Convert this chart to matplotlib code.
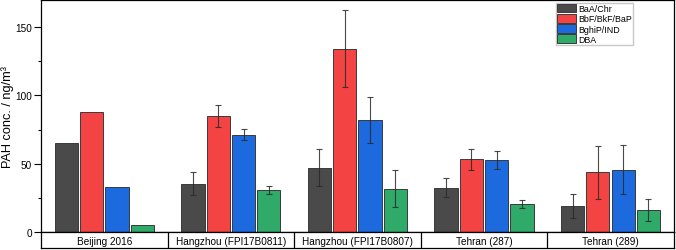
import numpy as np
import matplotlib.pyplot as plt

plt.rcParams['font.family'] = ['Liberation Sans', 'DejaVu Sans']

sites = ["Beijing 2016", "Hangzhou (FPI17B0811)", "Hangzhou (FPI17B0807)",
         "Tehran (287)", "Tehran (289)"]
species = ["BaA/Chr", "BbF/BkF/BaP", "BghiP/IND", "DBA"]

# mean values per species (one entry per site)
baa = [65.2, 35.4, 47.1, 32.5, 18.8]
bbf = [88.0, 85.0, 134.2, 53.2, 43.7]
bghip = [33.0, 71.3, 82.1, 52.8, 45.7]
dba = [5.1, 30.8, 31.7, 20.5, 16.1]

# error bars (Beijing without)
baa_err = [0, 8.3, 13.7, 6.8, 8.8]
bbf_err = [0, 8.0, 28.0, 7.6, 19.3]
bghip_err = [0, 4.2, 16.6, 6.6, 18.1]
dba_err = [0, 3.0, 13.5, 3.2, 7.8]

colors = ["#4a4a4a", "#f44343", "#1d69de", "#2faa69"]

vals = [baa, bbf, bghip, dba]
errs = [baa_err, bbf_err, bghip_err, dba_err]

fig = plt.figure(figsize=(6.76, 2.51), dpi=100)
ax = fig.add_axes([0.0607, 0.0717, 0.936, 0.925])

x = np.arange(len(sites))
pitch = 0.2
w = 0.184
for i in range(4):
    xi = x + (i - 1.5) * pitch
    ax.bar(xi, vals[i], w, color=colors[i], edgecolor="#3a3a3a", linewidth=0.7,
           label=species[i], zorder=2)
    e = np.array(errs[i], dtype=float)
    m = e > 0
    ax.errorbar(xi[m], np.array(vals[i])[m], yerr=e[m], fmt="none",
                ecolor="#2a2a2a", elinewidth=0.8, capsize=2, capthick=0.8,
                alpha=0.85, zorder=3)

ax.set_xlim(-0.5, len(sites) - 0.5)
ax.set_ylim(0, 170)
ax.set_yticks([0, 50, 100, 150])
ax.set_yticks([25, 75, 125], minor=True)
ax.tick_params(axis='y', which='major', direction='out', length=5, width=0.8,
               pad=1.5, labelsize=7.2)
ax.tick_params(axis='y', which='minor', direction='out', length=2.5, width=0.8)
ax.set_xticks([])
for s in ax.spines.values():
    s.set_linewidth(0.9)
# y label placed in figure pixels
fig.text(8 / 676, 1 - 117 / 251, "PAH conc. / ng/m³", fontsize=9.2,
         rotation=90, ha='center', va='center')

ax.legend(loc='upper right', bbox_to_anchor=(0.936, 0.988), fontsize=6.4,
          frameon=True, fancybox=False, edgecolor="#bbbbbb", borderpad=0.15,
          handlelength=2.1, handleheight=1.1, handletextpad=0.3,
          labelspacing=0.1, borderaxespad=0)

# category label strip below the axes
lab = fig.add_axes([0.0607, 0.008, 0.936, 0.064])
lab.set_xlim(-0.5, len(sites) - 0.5)
lab.set_ylim(0, 1)
lab.set_xticks([])
lab.set_yticks([])
for s in lab.spines.values():
    s.set_linewidth(0.9)
for k in range(1, len(sites)):
    lab.axvline(k - 0.5, color="black", linewidth=0.9)
for k, name in enumerate(sites):
    lab.text(k, 0.45, name, ha='center', va='center', fontsize=7.2)

fig.savefig("out.png", dpi=100)
